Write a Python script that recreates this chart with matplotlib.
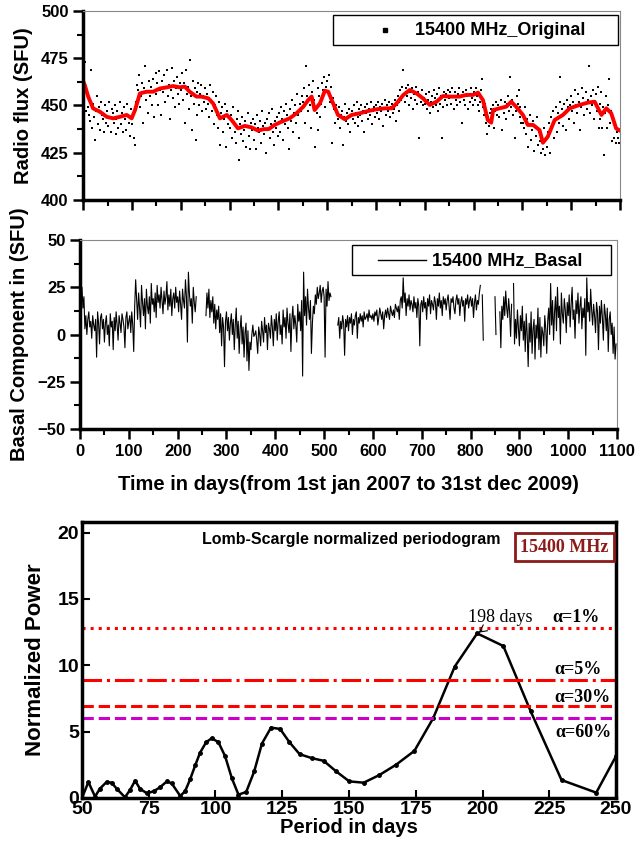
import numpy as np
import matplotlib
matplotlib.use("Agg")
from matplotlib import pyplot as plt
from matplotlib.patches import Rectangle

nan = np.nan

# red running mean in the top panel (day, SFU)
smooth_day = [1, 3, 10, 20, 34, 48, 61, 75, 89, 99, 106, 116, 130, 143, 157, 171, 184, 198, 208,
              218, 232, 242, 256, 266, 280, 294, 304, 317, 331, 345, 358, 370, 380, 392, 406, 423,
              437, 451, 461, 468, 474, 485, 495, 502, 512, 522, 536, 550, 567, 584, 601, 618, 632,
              642, 656, 669, 683, 696, 710, 724, 737, 751, 771, 785, 799, 809, 819, 829, 836, 840,
              853, 867, 877, 887, 901, 911, 922, 935, 942, 952, 966, 983, 997, 1017, 1034, 1048,
              1062, 1072, 1082, 1092, 1098]
smooth_val = [462, 460.8, 454.7, 448.5, 446.7, 444, 443.2, 444, 445, 443.2, 447.6, 456.4, 457.3,
              457.3, 459, 459.6, 460.3, 459.6, 460, 457.3, 454.7, 454.7, 453.8, 451.1, 443.2, 445,
              442.3, 437.9, 439.2, 438.4, 436.7, 437.5, 437.5, 439.7, 441.4, 443.2, 445.9, 449.4,
              452.9, 454.7, 447.6, 451.1, 457.8, 457.3, 451.1, 445, 442.7, 445, 445.9, 447.1, 448,
              448.5, 448.5, 451.1, 455.6, 458.2, 456.4, 453.8, 450.3, 452, 455, 454.7, 454.7, 455.6,
              455.6, 456.8, 452.9, 442.3, 440.9, 447.6, 448.5, 449.4, 452, 449.4, 445, 439.7, 439.7,
              437, 430.3, 433.5, 442.3, 445, 448.5, 450.3, 451.5, 452, 445, 448.5, 445.9, 437.9, 437]

# daily flux, sampled every 2 days from day 0
flux = [
    466, 452, 473, 447, 458, 449, 445, 442, 469, 438, 451, 444, 432, 447, 455, 440, 449, 437, 452, 445, 443, 436, 450, 441, 447,
    439, 452, 444, 436, 448, 446, 441, 450, 435, 443, 447, 438, 444, 452, 440, 446, 436, 449, 443, 437, 451, 445, 441, 434, 448,
    440, 446, 433, 429, 452, 461, 458, 466, 449, 455, 462, 441, 459, 471, 453, 457, 446, 463, 455, 460, 450, 464, 444, 458, 467,
    456, 462, 450, 468, 458, 445, 463, 457, 466, 452, 460, 469, 455, 461, 443, 458, 470, 454, 463, 449, 459, 465, 456, 451, 462,
    458, 467, 453, 462, 441, 469, 456, 460, 448, 474, 455, 437, 463, 451, 459, 432, 457, 445, 462, 450, 456, 461, 447, 455, 452,
    459, 448, 456, 451, 444, 461, 453, 447, 457, 440, 450, 455, 445, 438, 452, 429, 446, 449, 436, 443, 451, 428, 447, 440, 444,
    438, 445, 433, 449, 441, 436, 430, 443, 438, 447, 421, 440, 435, 444, 431, 437, 442, 428, 439, 446, 434, 427, 441, 437, 443,
    432, 440, 427, 445, 438, 436, 442, 430, 447, 439, 435, 441, 425, 443, 437, 446, 433, 440, 448, 436, 429, 442, 438, 444, 434,
    441, 446, 436, 449, 443, 432, 447, 440, 451, 445, 438, 427, 448, 442, 453, 436, 446, 450, 441, 456, 445, 433, 451, 447, 455,
    452, 459, 441, 471, 455, 447, 461, 450, 438, 457, 463, 453, 428, 449, 446, 437, 459, 455, 444, 451, 462, 458, 465, 449, 460,
    463, 457, 466, 452, 460, 430, 454, 448, 441, 450, 446, 443, 449, 438, 445, 447, 429, 444, 451, 442, 446, 440, 448, 436, 445,
    447, 443, 450, 441, 446, 452, 444, 439, 448, 445, 450, 442, 447, 436, 449, 446, 451, 443, 448, 445, 452, 440, 447, 449, 444,
    450, 446, 452, 443, 449, 447, 451, 439, 448, 453, 445, 450, 447, 452, 444, 449, 451, 446, 448, 453, 442, 450, 455, 447, 452,
    458, 453, 460, 469, 456, 452, 459, 455, 461, 450, 457, 454, 459, 448, 456, 453, 460, 451, 457, 433, 455, 452, 458, 450, 454,
    451, 456, 448, 453, 457, 446, 452, 455, 449, 458, 454, 450, 456, 447, 453, 459, 451, 455, 433, 449, 457, 453, 456, 450, 458,
    454, 457, 451, 459, 455, 448, 457, 453, 450, 456, 459, 452, 455, 441, 457, 453, 450, 458, 455, 448, 456, 452, 459, 454, 450,
    457, 453, 459, 455, 450, 456, 447, 452, 458, 464, 449, 445, 451, 441, 435, 444, 439, 446, 448, 443, 450, 438, 447, 452, 445,
    450, 444, 448, 453, 437, 449, 446, 452, 443, 451, 455, 447, 465, 449, 453, 445, 450, 433, 447, 455, 451, 458, 444, 449, 441,
    446, 441, 438, 449, 435, 443, 428, 440, 445, 432, 437, 442, 426, 439, 434, 444, 429, 436, 431, 425, 433, 427, 438, 424, 432,
    428, 436, 441, 425, 444, 439, 447, 433, 443, 449, 436, 446, 441, 452, 465, 444, 448, 439, 451, 446, 437, 453, 449, 443, 450,
    455, 447, 452, 441, 458, 450, 446, 456, 452, 437, 449, 459, 454, 445, 451, 457, 448, 453, 471, 446, 455, 450, 458, 443, 452,
    456, 447, 460, 438, 451, 443, 457, 438, 449, 424, 446, 455, 438, 450, 464, 441, 447, 431, 443, 433, 439, 430, 436, 433, 430,
]

# basal component, same 2-day sampling, nan = data gap
basal = [
    nan, nan, 25, 14, 20, 3, 10, 0, 8, 12, 4, 7, -2, 10, 5, 2, 8, -12, 12, 6, -5, 9, 11, 3, 8,
    -4, 6, 10, 0, 5, -6, 11, 4, 7, -8, 9, 2, 12, 5, -3, 10, 6, 1, 11, 8, 4, -7, 9, 12, 3,
    7, 10, 1, 12, 5, -9, 15, 29, 18, 8, 22, 14, 4, 26, 17, 10, 19, 3, 24, 15, 11, 20, 6, 27, 16,
    19, 12, 22, 9, 26, 17, 21, 14, 25, 18, 11, 23, 16, 20, 28, 13, 21, 15, 24, 10, 19, 22, 14, 25, 17,
    20, 12, 23, 16, 8, 24, 18, 14, 29, 20, -4, 33, 22, 15, 19, 6, 25, 17, 12, 20, nan, nan, nan, nan, nan,
    nan, nan, nan, nan, 10, 22, 14, 24, 9, 18, 12, 20, 6, 16, 3, 13, 8, 15, 1, 11, -6, 9, 4, -17, 7,
    12, 2, 9, -3, 6, 11, 0, 8, -8, 5, 14, -2, 7, -10, 3, 10, -5, 4, -12, 1, 6, -14, 2, -19, -4,
    -8, 0, 5, -1, 0, 2, -3, -10, 4, 0, -6, 7, 2, -4, 9, 1, 5, -8, 6, 3, -2, 10, 4, -6, 8,
    2, 11, -3, 7, 12, 0, 5, -5, 13, 4, 9, -2, 14, 6, 1, 11, -9, 8, 15, 3, 10, 5, -4, 16, 7,
    12, 2, 18, -22, 33, 10, 20, 5, 24, 14, 8, 18, -10, 6, 15, 11, 21, 16, 25, 19, 22, 26, 17, 23, 25,
    20, -12, 24, 15, 28, 18, 22, 20, nan, nan, nan, nan, nan, nan, 5, 9, -2, 7, 3, 10, 6, -11, 8, 4, 10,
    2, 9, 6, 11, 0, 8, 5, 10, 12, -2, 9, 6, 11, 7, 10, 4, 12, 8, 9, 11, 7, 13, 9, 10, 8,
    11, 7, 12, 10, 13, 5, 9, 14, 11, 8, 12, 3, 10, 13, 9, 14, 11, 8, 15, 12, 10, 13, 9, 16, 14,
    12, 15, 8, 18, 20, 14, 30, 17, 22, 10, 19, 15, 21, 13, 18, 16, 12, 20, 14, 17, 9, 19, 15, -6, 16,
    18, 12, 20, 14, 17, 8, 19, 15, 21, 11, 18, 16, 13, 20, 17, 8, 19, 15, 22, 14, 18, 10, 20, 16, 19,
    13, 18, 21, 15, 8, 19, 17, 20, 14, 11, 18, 21, 16, 19, 10, 17, 20, 15, 18, 7, 19, 16, 21, 14, 18,
    20, 15, 19, 9, 17, 21, 13, 18, 16, 22, 26, nan, 21, -3, nan, nan, nan, nan, nan, nan, nan, nan, nan, nan, nan,
    20, 0, nan, nan, nan, 12, -7, 15, 8, 20, 10, 23, 14, 9, 19, 12, -1, 16, nan, 27, -5, 8, -2, 13, 4,
    -6, 10, 2, 15, -3, 7, -9, 11, 0, -17, 6, -4, 12, -10, 3, 8, -13, 5, -2, 14, -8, 9, -12, 4, 1,
    -6, 10, 3, -10, 7, 14, 0, 27, 5, 18, -3, 12, 20, 2, 25, 9, 15, -5, 22, 11, 6, 19, 13, 1, 17,
    10, 21, 4, 16, 25, 8, 13, -2, 18, 11, 22, 6, 15, 20, 3, 14, 9, 19, -11, 30, 12, 17, 7, 24, 13,
    5, 16, 10, 1, 17, 12, -8, 15, 6, 18, 9, -3, 16, 11, 2, 14, -9, 8, 12, 0, 6, -10, 4, -13, -5,
]

# Lomb-Scargle periodogram
period = [50, 52.4, 54.9, 56.7, 59.2, 61.1, 63, 66.1, 68, 69.9, 71.7, 74.3, 76.8, 79.2, 81.8, 83.6,
          86.8, 88.6, 90.5, 92.4, 94.2, 96.5, 98.6, 101.1, 103.6, 106.1, 108.6, 111.5, 114.5, 117.4,
          120.8, 124.2, 127.7, 131.5, 136.1, 140.5, 145.2, 150.1, 155.5, 161.4, 167.6, 174.5, 181.5,
          189.6, 198, 207.8, 218, 229.6, 242.6, 250]
power = [0, 1.2, 0.1, 0.7, 1.2, 1.15, 0.7, 0.05, 0.6, 1.3, 0.7, 0.35, 0.5, 0.8, 1.25, 1.1, 0.15, 0.5,
         1.4, 2.45, 3.4, 4.2, 4.5, 4.2, 3.15, 1.5, 0.25, 0.45, 2.0, 4.1, 5.3, 5.2, 4.2, 3.3, 3.0, 2.8,
         2.0, 1.25, 1.15, 1.73, 2.5, 3.55, 6.0, 9.9, 12.4, 11.45, 6.55, 1.35, 0.4, 3.15]
sig_labels = ['\u03b1=1%', '\u03b1=5%', '\u03b1=30%', '\u03b1=60%']
sig_levels = [12.8, 8.87, 6.9, 6.0]

days = np.arange(0, 1100, 2)

plt.rcParams['font.family'] = ['Liberation Sans', 'DejaVu Sans']
plt.rcParams['font.weight'] = 'bold'
serif = ['Liberation Serif', 'DejaVu Serif']

fig = plt.figure(figsize=(6.35, 8.47), dpi=100)
ax1 = fig.add_axes([0.1312, 0.7639, 0.8452, 0.2231])
ax2 = fig.add_axes([0.1260, 0.4935, 0.8457, 0.2231])
ax3 = fig.add_axes([0.1291, 0.0579, 0.8410, 0.3259])


def style_time_axis(ax):
    for s in ['left', 'bottom']:
        ax.spines[s].set_linewidth(2.5)
    for s in ['top', 'right']:
        ax.spines[s].set_linewidth(0.8)
        ax.spines[s].set_color('#888888')
    ax.set_xlim(0, 1100)
    ax.set_xticks(np.arange(0, 1101, 100))
    ax.set_xticks(np.arange(50, 1100, 100), minor=True)
    ax.tick_params(which='major', direction='out', length=7, width=1.8, labelsize=12)
    ax.tick_params(which='minor', direction='out', length=4, width=1.5)
    ax.tick_params(top=False, right=False)


def legend_box(ax, x0, y0, x1, y1):
    ax.add_patch(Rectangle((x0, y0), x1 - x0, y1 - y0, transform=ax.transAxes, fc='white',
                           ec='black', lw=1.0, zorder=5))


# top: original flux
ax1.scatter(days, flux, s=4, marker='s', color='black', linewidths=0)
ax1.plot(smooth_day, smooth_val, color='red', lw=2.8)
style_time_axis(ax1)
ax1.set_ylim(400, 500)
ax1.set_yticks(np.arange(400, 501, 25))
ax1.set_yticks(np.arange(412.5, 500, 25), minor=True)
ax1.tick_params(labelbottom=False)
ax1.set_ylabel('Radio flux (SFU)', fontsize=14.5, fontweight='bold', labelpad=6)
legend_box(ax1, 0.465, 0.82, 0.996, 0.979)
ax1.plot([0.562], [0.899], 's', ms=2.5, color='black', transform=ax1.transAxes, zorder=6)
ax1.text(0.618, 0.899, '15400 MHz_Original', transform=ax1.transAxes, fontsize=13,
         fontweight='bold', va='center', ha='left', zorder=6)

# middle: basal component
ax2.plot(days, basal, color='black', lw=0.8)
style_time_axis(ax2)
ax2.set_ylim(-50, 50)
ax2.set_yticks(np.arange(-50, 51, 25))
ax2.set_yticks(np.arange(-37.5, 50, 25), minor=True)
ax2.set_ylabel('Basal Component in (SFU)', fontsize=14.5, fontweight='bold', labelpad=6)
ax2.set_xlabel('Time in days(from 1st jan 2007 to 31st dec 2009)', fontsize=14.5,
               fontweight='bold', labelpad=12)
legend_box(ax2, 0.5065, 0.815, 0.989, 0.974)
ax2.plot([0.555, 0.644], [0.894, 0.894], color='black', lw=1.0, transform=ax2.transAxes, zorder=6)
ax2.text(0.655, 0.894, '15400 MHz_Basal', transform=ax2.transAxes, fontsize=13,
         fontweight='bold', va='center', ha='left', zorder=6)

# bottom: periodogram
ax3.plot(period, power, color='black', lw=1.8, marker='o', markersize=2.5)
styles = [':', '-.', '--', '--']
colors = ['red', 'red', 'red', '#CC00CC']
for lev, ls, c in zip(sig_levels, styles, colors):
    ax3.axhline(lev, color=c, ls=ls, lw=2.2)
lab_x = [235.2, 235.6, 237.5, 237.8]
lab_y = [13.6, 9.7, 7.6, 4.9]
for lab, x, y in zip(sig_labels, lab_x, lab_y):
    ax3.text(x, y, lab, fontsize=13, family=serif, fontweight='bold', ha='center', va='center')
ax3.annotate('198 days', xy=(198.5, 12.45), xytext=(206.5, 13.6), fontsize=13,
             family=serif, fontweight='normal', ha='center', va='center',
             arrowprops=dict(arrowstyle='->', color='black', lw=0.8, shrinkA=2, shrinkB=0))
ax3.text(151, 19.45, 'Lomb-Scargle normalized periodogram', fontsize=11.5,
         fontweight='bold', ha='center', va='center')
ax3.text(230.7, 18.9, '15400 MHz', fontsize=13, family=serif, fontweight='bold',
         color='#8B1A1A', ha='center', va='center',
         bbox=dict(boxstyle='square,pad=0.3', fc='white', ec='#8B1A1A', lw=2))
ax3.set_xlim(50, 250)
ax3.set_ylim(0, 20.8)
ax3.set_xticks(np.arange(50, 251, 25))
ax3.set_yticks([0, 5, 10, 15, 20])
for s in ax3.spines.values():
    s.set_linewidth(2.5)
ax3.tick_params(direction='in', length=6, width=1.5, labelsize=14, pad=2)
ax3.set_xlabel('Period in days', fontsize=14.5, fontweight='bold', labelpad=0)
ax3.set_ylabel('Normalized Power', fontsize=16, fontweight='bold', labelpad=8)

fig.savefig('out.png', dpi=100)
